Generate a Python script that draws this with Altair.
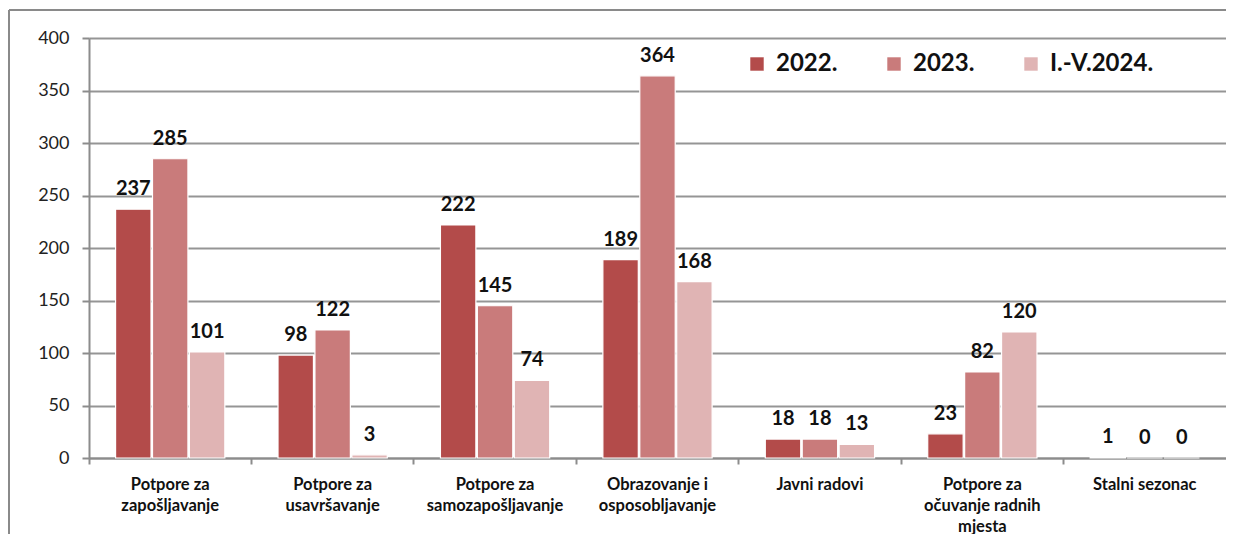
import altair as alt
import pandas as pd

categories = [
    "Potpore za|zapošljavanje",
    "Potpore za|usavršavanje",
    "Potpore za|samozapošljavanje",
    "Obrazovanje i|osposobljavanje",
    "Javni radovi",
    "Potpore za|očuvanje radnih|mjesta",
    "Stalni sezonac",
]
years = ["2022.", "2023.", "I.-V.2024."]
values_2022 = [237, 98, 222, 189, 18, 23, 1]
values_2023 = [285, 122, 145, 364, 18, 82, 0]
values_2024 = [101, 3, 74, 168, 13, 120, 0]
colors = ["#B34B4A", "#C97B7B", "#E0B4B4"]

rows = []
for yr, vals in zip(years, [values_2022, values_2023, values_2024]):
    for c, v in zip(categories, vals):
        rows.append({"cat": c, "year": yr, "value": v})
df = pd.DataFrame(rows)

W, H = 1137, 420
FONT = "Lato"

x_enc = alt.X(
    "cat:N",
    sort=categories,
    scale=alt.Scale(paddingInner=0, paddingOuter=0),
    axis=alt.Axis(
        title=None,
        labelExpr="split(datum.label, '|')",
        labelAngle=0,
        labelFont=FONT,
        labelFontSize=16.5,
        labelFontWeight="bold",
        labelColor="#111111",
        labelLineHeight=21,
        labelPadding=12,
        labelBaseline="top",
        bandPosition=0,
        tickSize=6,
        tickColor="#8c8c8c",
        tickWidth=2,
        domainColor="#8c8c8c",
        domainWidth=2,
        grid=False,
    ),
)
xoff = alt.XOffset(
    "year:N",
    sort=years,
    scale=alt.Scale(paddingOuter=0.72, paddingInner=0.04),
)
y_enc = alt.Y(
    "value:Q",
    scale=alt.Scale(domain=[0, 400], nice=False),
    axis=alt.Axis(
        title=None,
        values=[0, 50, 100, 150, 200, 250, 300, 350, 400],
        labelFont=FONT,
        labelFontSize=18,
        labelColor="#222222",
        labelPadding=13,
        tickSize=7,
        tickColor="#8c8c8c",
        tickWidth=2,
        domainColor="#8c8c8c",
        domainWidth=2,
        gridColor="#959595",
        gridWidth=2,
    ),
)

base = alt.Chart(df)

bars = base.mark_bar(stroke="white", strokeWidth=1.2).encode(
    x=x_enc,
    xOffset=xoff,
    y=y_enc,
    color=alt.Color(
        "year:N",
        sort=years,
        scale=alt.Scale(domain=years, range=colors),
        legend=alt.Legend(
            title=None,
            orient="none",
            legendX=656,
            legendY=14,
            direction="horizontal",
            symbolType="square",
            symbolSize=180,
            symbolStrokeWidth=0,
            labelFont=FONT,
            labelFontSize=24,
            labelFontWeight="bold",
            labelColor="#111111",
            labelOffset=7,
            columnPadding=44,
            padding=0,
        ),
    ),
)

labels = base.mark_text(
    font=FONT, fontSize=20, fontWeight="bold", color="#111111",
    baseline="alphabetic", dy=-14,
).encode(
    x=alt.X("cat:N", sort=categories),
    xOffset=alt.XOffset("year:N", sort=years),
    y="value:Q",
    text="value:Q",
)

one = pd.DataFrame({"k": [0]})
frame_top = alt.Chart(one).mark_rule(color="#8a8a8a", strokeWidth=2).encode(
    x=alt.value(-80), x2=alt.value(W), y=alt.value(-28),
)
frame_left = alt.Chart(one).mark_rule(color="#8a8a8a", strokeWidth=2).encode(
    x=alt.value(-80), y=alt.value(-28), y2=alt.value(H + 76),
)

chart = alt.layer(frame_top, frame_left, bars, labels).properties(
    width=W,
    height=H,
    autosize=alt.AutoSizeParams(type="none"),
    padding={"left": 81, "top": 30, "right": 0, "bottom": 76},
).configure_view(stroke=None).configure(background="white")

chart.save("out.html", embed_options={"renderer": "svg", "actions": False})
